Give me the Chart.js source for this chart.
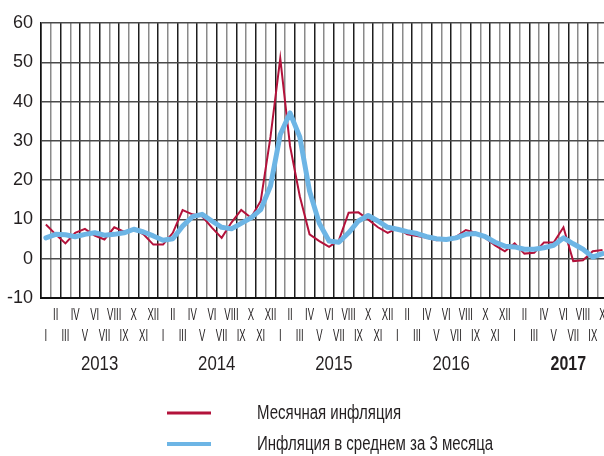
<!DOCTYPE html>
<html>
<head>
<meta charset="utf-8">
<script src="https://cdn.jsdelivr.net/npm/chart.js@4/dist/chart.umd.min.js"></script>
<style>
  html, body { margin: 0; padding: 0; background: #fff; overflow: hidden; }
  #wrap { width: 604px; height: 456px; overflow: hidden; }
  canvas { display: block; }
</style>
</head>
<body>
<div id="wrap"><canvas id="chart" width="612" height="456"></canvas></div>
<script>
// --- Data ---
const romanMonths = ['I', 'II', 'III', 'IV', 'V', 'VI', 'VII', 'VIII', 'IX', 'X', 'XI', 'XII'];
const years = ['2013', '2014', '2015', '2016', '2017'];
const monthCount = 58; // Jan 2013 .. Oct 2017

const monthlyInflation = [
  8.7, 6.2, 3.9, 6.6, 7.6, 5.9, 4.9, 8.0, 6.9, 7.6, 6.2, 3.6,   // 2013
  3.6, 6.6, 12.4, 11.3, 10.8, 7.9, 5.3, 9.2, 12.4, 10.4, 14.7, 31.0, // 2014
  51.0, 28.7, 15.9, 6.2, 4.5, 3.0, 4.7, 11.7, 11.8, 10.0, 8.0, 6.6,  // 2015
  7.8, 6.2, 5.8, 5.3, 4.7, 4.9, 5.6, 7.3, 6.6, 5.3, 3.4, 1.9,        // 2016
  3.9, 1.3, 1.5, 4.1, 4.1, 8.0, -0.6, -0.4, 1.9, 2.2                 // 2017
];
const avgInflation = [
  5.3, 6.2, 6.1, 5.6, 6.2, 6.6, 6.0, 6.2, 6.6, 7.5, 6.8, 5.8,
  4.7, 5.1, 8.3, 10.7, 11.3, 9.6, 8.0, 7.6, 9.0, 10.4, 12.5, 18.5,
  31.6, 37.1, 31.0, 17.2, 9.0, 4.5, 4.2, 6.6, 9.6, 11.0, 9.6, 8.0,
  7.5, 6.9, 6.4, 5.6, 5.1, 4.9, 5.3, 6.2, 6.4, 5.6, 4.2, 3.2,
  3.0, 2.4, 2.4, 2.8, 3.4, 5.3, 3.8, 2.4, 0.4, 1.3
];
const seriesNames = ['Месячная инфляция', 'Инфляция в среднем за 3 месяца'];
const yMin = -10, yMax = 60, yStep = 10;

// --- Styles ---
const FONT = "'Liberation Sans', Arial, sans-serif";
const TEXT = '#231f20';
const RED = '#b3123b';
const BLUE = '#6db5e5';

const labels = [];
for (let i = 0; i < monthCount; i++) labels.push(romanMonths[i % 12]);

// draw text squeezed horizontally (no narrow face installed)
function narrowText(ctx, text, x, y, sx, align) {
  ctx.save();
  ctx.translate(x, y);
  ctx.scale(sx, 1);
  ctx.textAlign = align;
  ctx.fillText(text, 0, 0);
  ctx.restore();
}

// Month numerals in two rows, year captions and the series key
const captionsPlugin = {
  id: 'captions',
  afterDraw(chart) {
    const { ctx } = chart;
    const x = chart.scales.x;
    ctx.save();
    ctx.fillStyle = TEXT;
    ctx.textBaseline = 'middle';

    ctx.font = '17px ' + FONT;
    labels.forEach((m, i) => {
      const row = i % 2 === 0 ? 336 : 315;
      narrowText(ctx, m, x.getPixelForValue(i), row, 0.56, 'center');
    });

    years.forEach((yr, k) => {
      const a = 12 * k + 5, b = 12 * k + 6;
      if (b >= monthCount) return;
      const cx = (x.getPixelForValue(a) + x.getPixelForValue(b)) / 2;
      const last = k === years.length - 1;
      ctx.font = (last ? 'bold ' : '') + '21px ' + FONT;
      narrowText(ctx, yr, cx, 364, last ? 0.76 : 0.8, 'center');
    });

    const keys = [
      { name: seriesNames[0], color: RED, width: 3, y: 413 },
      { name: seriesNames[1], color: BLUE, width: 4, y: 444 }
    ];
    ctx.font = '20px ' + FONT;
    keys.forEach(k => {
      ctx.strokeStyle = k.color;
      ctx.lineWidth = k.width;
      ctx.beginPath();
      ctx.moveTo(167, k.y);
      ctx.lineTo(211, k.y);
      ctx.stroke();
      narrowText(ctx, k.name, 257, k.y, 0.75, 'left');
    });
    ctx.restore();
  }
};

const chart = new Chart(document.getElementById('chart').getContext('2d'), {
  type: 'line',
  data: {
    labels: labels,
    datasets: [
      {
        label: seriesNames[0],
        data: monthlyInflation,
        borderColor: RED,
        borderWidth: 2,
        pointRadius: 0,
        tension: 0,
        order: 2
      },
      {
        label: seriesNames[1],
        data: avgInflation,
        borderColor: BLUE,
        borderWidth: 5,
        borderJoinStyle: 'round',
        borderCapStyle: 'round',
        pointRadius: 0,
        tension: 0,
        order: 1
      }
    ]
  },
  options: {
    responsive: false,
    animation: false,
    layout: { padding: { top: 23, right: 4.6, bottom: 0, left: 0 } },
    plugins: {
      legend: { display: false },
      tooltip: { enabled: false }
    },
    scales: {
      x: {
        offset: true,
        grid: {
          offset: true,
          drawTicks: false,
          lineWidth: 1.5,
          color: c => (c.index % 2 === 0 ? '#1e1e1e' : '#8a8a8a')
        },
        border: { color: '#111', width: 2 },
        ticks: { display: false, autoSkip: false },
        afterFit: s => { s.height = 158; }
      },
      y: {
        min: yMin,
        max: yMax,
        grid: { drawTicks: false, lineWidth: 1.5, color: '#4a4a4a' },
        border: { color: '#111', width: 1.5 },
        ticks: {
          stepSize: yStep,
          padding: 8,
          color: TEXT,
          font: { family: FONT, size: 18 }
        },
        afterFit: s => { s.width = 41; }
      }
    }
  },
  plugins: [captionsPlugin]
});
</script>
</body>
</html>
